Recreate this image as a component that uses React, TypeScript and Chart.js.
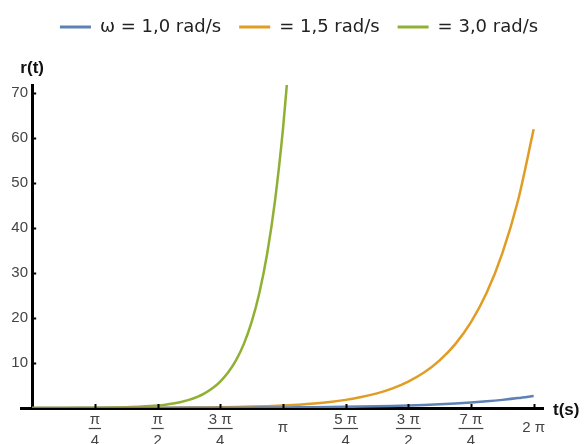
import React, { useEffect, useRef } from 'react';
import { Chart, registerables } from 'chart.js';

Chart.register(...registerables);

const FONT = '"Liberation Sans", Arial, sans-serif';
const LEGEND_FONT = '"DejaVu Sans", "Liberation Sans", Arial, sans-serif';

// time samples (s)
const T = [0, 0.196, 0.393, 0.589, 0.785, 0.982, 1.178, 1.374, 1.571, 1.767, 1.963, 2.16, 2.356, 2.553, 2.749, 2.945, 3.142, 3.338, 3.534, 3.731, 3.927, 4.123, 4.32, 4.516, 4.712, 4.909, 5.105, 5.301, 5.498, 5.694, 5.89, 6.087, 6.283];
// ω = 1,0 rad/s
const R_W10 = [0.01, 0.01, 0.011, 0.012, 0.013, 0.015, 0.018, 0.021, 0.025, 0.03, 0.036, 0.044, 0.053, 0.065, 0.079, 0.095, 0.116, 0.141, 0.172, 0.209, 0.254, 0.309, 0.376, 0.457, 0.557, 0.677, 0.824, 1.003, 1.22, 1.485, 1.807, 2.2, 2.68];
// ω = 1,5 rad/s
const R_W15 = [0.01, 0.01, 0.012, 0.014, 0.018, 0.023, 0.03, 0.04, 0.053, 0.071, 0.095, 0.128, 0.172, 0.23, 0.309, 0.415, 0.557, 0.747, 1.003, 1.346, 1.807, 2.43, 3.26, 4.37, 5.88, 7.88, 10.59, 14.2, 19.08, 25.6, 34.39, 46.14, 61.97];
// ω = 3,0 rad/s
const T_W30 = [0, 0.196, 0.393, 0.589, 0.785, 0.982, 1.178, 1.374, 1.571, 1.669, 1.767, 1.865, 1.963, 2.062, 2.16, 2.258, 2.356, 2.454, 2.553, 2.651, 2.749, 2.847, 2.945, 3.043, 3.142, 3.2];
const R_W30 = [0.01, 0.012, 0.018, 0.03, 0.053, 0.095, 0.172, 0.309, 0.557, 0.747, 1.003, 1.346, 1.807, 2.43, 3.26, 4.37, 5.88, 7.88, 10.59, 14.2, 19.08, 25.6, 34.39, 46.14, 61.97, 73.8];

const SERIES_LABELS = ['ω = 1,0 rad/s', '= 1,5 rad/s', '= 3,0 rad/s'];
const COLORS = ['#5E81B5', '#E19C24', '#8FB032'];

const X_TICK_VALUES = [0.785398, 1.570796, 2.356194, 3.141593, 3.926991, 4.712389, 5.497787, 6.283185];
const X_TICK_LABELS: (string | string[])[] = [['π', '4'], ['π', '2'], ['3 π', '4'], 'π', ['5 π', '4'], ['3 π', '2'], ['7 π', '4'], '2 π'];
const Y_TICKS = [10, 20, 30, 40, 50, 60, 70];
const X_MIN = -0.14;
const X_MAX = 6.4;
const Y_MIN = 0;
const Y_MAX = 71.8;
const X_TITLE = 't(s)';
const Y_TITLE = 'r(t)';

const decorPlugin = {
  id: 'decor',
  afterDraw(chart: any) {
    const { ctx, chartArea } = chart;
    const xs = chart.scales.x;
    const ys = chart.scales.y;
    const x0 = xs.getPixelForValue(0);
    const y0 = ys.getPixelForValue(0);
    ctx.save();
    ctx.strokeStyle = '#000';
    ctx.lineWidth = 2;
    Y_TICKS.forEach((v) => {
      const py = Math.round(ys.getPixelForValue(v)) + 0.5;
      ctx.beginPath();
      ctx.moveTo(x0, py);
      ctx.lineTo(x0 + 4, py);
      ctx.stroke();
    });
    X_TICK_VALUES.forEach((v) => {
      const px = Math.round(xs.getPixelForValue(v)) + 0.5;
      ctx.beginPath();
      ctx.moveTo(px, y0);
      ctx.lineTo(px, y0 - 4);
      ctx.stroke();
    });
    ctx.font = `15px ${FONT}`;
    ctx.strokeStyle = '#444';
    ctx.lineWidth = 1.2;
    X_TICK_LABELS.forEach((lab, i) => {
      if (Array.isArray(lab)) {
        const w = Math.max(...lab.map((s) => ctx.measureText(s).width)) + 2;
        const px = xs.getPixelForValue(X_TICK_VALUES[i]);
        const by = chartArea.bottom + 20.5;
        ctx.beginPath();
        ctx.moveTo(px - w / 2, by);
        ctx.lineTo(px + w / 2, by);
        ctx.stroke();
      }
    });
    ctx.fillStyle = '#111';
    ctx.font = `bold 17px ${FONT}`;
    ctx.textBaseline = 'middle';
    ctx.textAlign = 'center';
    ctx.fillText(Y_TITLE, x0, chartArea.top - 17);
    ctx.textAlign = 'left';
    ctx.fillText(X_TITLE, chartArea.right + 10, y0 + 2);
    ctx.restore();
  },
};

export default function App() {
  const ref = useRef<HTMLCanvasElement | null>(null);
  useEffect(() => {
    if (!ref.current) return;
    const mk = (xs: number[], ys: number[]) => xs.map((x, i) => ({ x, y: ys[i] }));
    const chart = new Chart(ref.current, {
      type: 'line',
      data: {
        datasets: [
          { label: SERIES_LABELS[0], data: mk(T, R_W10) },
          { label: SERIES_LABELS[1], data: mk(T, R_W15) },
          { label: SERIES_LABELS[2], data: mk(T_W30, R_W30) },
        ].map((d, i) => ({
          ...d,
          borderColor: COLORS[i],
          backgroundColor: COLORS[i],
          borderWidth: 2.5,
          pointRadius: 0,
          fill: false,
          cubicInterpolationMode: 'monotone' as const,
        })),
      },
      options: {
        animation: false,
        responsive: false,
        devicePixelRatio: 1,
        layout: { padding: { top: 0, left: 21, right: 10, bottom: 0 } },
        plugins: {
          tooltip: { enabled: false },
          subtitle: {
            display: true,
            text: '',
            weight: 500,
            position: 'top',
            font: { size: 1, lineHeight: 1 },
            padding: { top: 0, bottom: 38 },
          },
          legend: {
            display: true,
            position: 'top',
            labels: {
              boxWidth: 31,
              boxHeight: 3,
              padding: 18,
              color: '#222',
              font: { family: LEGEND_FONT, size: 18 },
              generateLabels: (c: any) =>
                Chart.defaults.plugins.legend.labels.generateLabels(c).map((l: any) => ({ ...l, lineWidth: 0 })),
            },
          },
        },
        scales: {
          x: {
            type: 'linear',
            position: 'bottom',
            min: X_MIN,
            max: X_MAX,
            grid: { display: false, drawTicks: false },
            border: { display: true, color: '#000', width: 3 },
            afterBuildTicks: (s: any) => {
              s.ticks = X_TICK_VALUES.map((v) => ({ value: v }));
            },
            afterFit: (s: any) => {
              s.height = 36;
              s.paddingRight = 44;
            },
            ticks: {
              autoSkip: false,
              maxRotation: 0,
              minRotation: 0,
              padding: 1.5,
              crossAlign: 'near',
              color: '#444',
              callback: (_v: any, i: number) => X_TICK_LABELS[i],
              font: (c: any) => ({
                family: FONT,
                size: 15,
                lineHeight: Array.isArray(X_TICK_LABELS[c.index]) ? 1.4 : 2.4667,
              }),
            },
          },
          y: {
            type: 'linear',
            position: { x: 0 } as any,
            min: Y_MIN,
            max: Y_MAX,
            grid: { display: false, drawTicks: false },
            border: { display: true, color: '#000', width: 3 },
            afterBuildTicks: (s: any) => {
              s.ticks = Y_TICKS.map((v) => ({ value: v }));
            },
            ticks: {
              color: '#444',
              font: { family: FONT, size: 15 },
              callback: (v: any) => `${v} `,
            },
          },
        },
      } as any,
      plugins: [decorPlugin],
    });
    return () => chart.destroy();
  }, []);
  return (
    <div style={{ position: 'fixed', left: 0, top: 0, width: 587, height: 444, background: '#fff' }}>
      <canvas ref={ref} width={587} height={444} style={{ display: 'block' }} />
    </div>
  );
}
